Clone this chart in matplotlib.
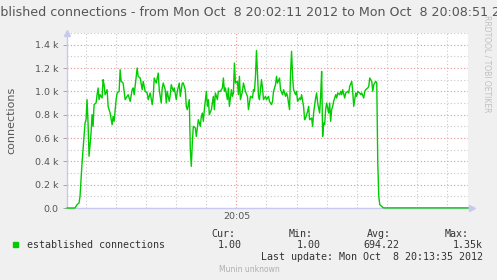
import numpy as np
import matplotlib
matplotlib.use("Agg")
import matplotlib.pyplot as plt
import matplotlib.dates as mdates
from matplotlib.ticker import MultipleLocator, FuncFormatter

# Données (secondes depuis 20:02:11, nombre de connexions)
seconds = [
    0, 8, 10, 12, 13, 15, 16, 18, 19, 20, 21, 22, 24, 25, 26, 27, 29, 30, 31, 32,
    33, 35, 36, 37, 38, 40, 41, 43, 45, 46, 47, 49, 50, 52, 53, 54, 56, 57, 58, 60,
    61, 63, 65, 66, 67, 70, 71, 73, 75, 76, 78, 80, 81, 83, 85, 86, 87, 89, 90, 91,
    92, 94, 95, 96, 98, 99, 100, 102, 103, 104, 106, 107, 109, 110, 112, 113, 115, 116, 118, 119,
    120, 122, 123, 124, 125, 126, 128, 129, 130, 131, 133, 134, 135, 136, 137, 139, 140, 141, 142, 144,
    146, 147, 148, 150, 151, 153, 155, 156, 157, 158, 160, 161, 162, 164, 165, 166, 167, 168, 170, 171,
    172, 173, 175, 176, 178, 180, 181, 183, 185, 186, 187, 188, 189, 191, 192, 194, 195, 196, 198, 199,
    201, 202, 204, 205, 206, 208, 209, 210, 212, 213, 215, 216, 218, 219, 220, 222, 223, 224, 225, 226,
    228, 229, 230, 232, 233, 234, 236, 237, 238, 240, 241, 242, 244, 245, 246, 248, 249, 250, 252, 253,
    254, 255, 256, 257, 258, 259, 261, 262, 263, 264, 265, 266, 268, 269, 270, 272, 273, 274, 275, 277,
    278, 280, 281, 282, 284, 285, 286, 288, 289, 290, 292, 293, 294, 296, 297, 298, 300, 301, 302, 304,
    305, 306, 308, 309, 310, 311, 312, 315, 316, 400,
]
connections = [
    0, 0, 29, 43, 100, 386, 500, 729, 757, 929, 729, 443, 643, 800, 700, 886, 900, 971, 1029, 929,
    971, 943, 1100, 1057, 971, 1014, 871, 814, 714, 786, 743, 929, 986, 1000, 1186, 1086, 1071, 1000, 929, 957,
    971, 914, 1014, 1029, 971, 1200, 1129, 1114, 1014, 1086, 1000, 986, 929, 986, 886, 957, 1114, 1071, 1114, 1157,
    1014, 900, 1029, 1071, 1014, 900, 1000, 914, 971, 1057, 1000, 1029, 929, 1000, 1071, 957, 1071, 1071, 1014, 871,
    843, 929, 500, 357, 557, 700, 686, 614, 686, 757, 700, 786, 814, 743, 843, 1000, 871, 929, 800, 843,
    957, 843, 986, 929, 1000, 1000, 1029, 1114, 1000, 1029, 929, 1029, 871, 1014, 957, 986, 1243, 1071, 1086, 971,
    1129, 929, 1000, 1071, 1000, 957, 843, 957, 943, 1014, 1000, 1129, 1350, 957, 929, 1100, 1029, 929, 957, 929,
    957, 914, 886, 914, 1000, 1057, 1129, 1071, 1114, 1014, 971, 1014, 957, 986, 957, 843, 1157, 1343, 1129, 1014,
    971, 1000, 914, 943, 929, 971, 871, 757, 771, 829, 871, 757, 771, 700, 814, 943, 986, 900, 814, 957,
    1171, 614, 729, 714, 843, 900, 814, 900, 743, 843, 871, 914, 971, 943, 986, 971, 1000, 971, 1014, 943,
    986, 1000, 986, 1043, 1086, 1000, 871, 986, 957, 1000, 986, 971, 986, 943, 1000, 1014, 1029, 1043, 1114, 1086,
    1000, 1057, 1086, 1071, 386, 100, 29, 5, 1, 1,
]

t0 = np.datetime64("2012-10-08T20:02:11")
times = t0 + np.array(seconds).astype("timedelta64[s]")
t_end = np.datetime64("2012-10-08T20:08:51")

title = "Established connections - from Mon Oct  8 20:02:11 2012 to Mon Oct  8 20:08:51 2012"
legend_label = "established connections"
stats_head = ["Cur:", "Min:", "Avg:", "Max:"]
stats_vals = ["1.00", "1.00", "694.22", "1.35k"]
last_update = "Last update: Mon Oct  8 20:13:35 2012"

W, H = 497, 280
fig = plt.figure(figsize=(W / 100, H / 100), dpi=100)
fig.patch.set_facecolor("#F0F0F0")

# zone de tracé (pixels -> fraction)
left, right, top, bottom = 67, 468, 33, 208
ax = fig.add_axes([left / W, 1 - bottom / H, (right - left) / W, (bottom - top) / H])
ax.set_facecolor("white")

ax.plot(times, connections, color="#00CC00", linewidth=1.0, zorder=3, clip_on=False)

ax.set_xlim(t0, t_end)
ax.set_ylim(0, 1500)

# grille
ax.yaxis.set_major_locator(MultipleLocator(200))
ax.yaxis.set_minor_locator(MultipleLocator(100))
ax.xaxis.set_major_locator(mdates.MinuteLocator(byminute=range(0, 60, 5)))
ax.xaxis.set_minor_locator(mdates.SecondLocator(bysecond=[0, 30]))
ax.xaxis.set_major_formatter(mdates.DateFormatter("%H:%M"))
ax.yaxis.set_major_formatter(FuncFormatter(lambda v, p: "0.0" if v == 0 else f"{v / 1000:.1f} k"))

ax.grid(which="minor", color="#C8C8C8", linestyle=(0, (1, 2)), linewidth=0.8)
ax.grid(which="major", color="#E89090", linestyle=(0, (1, 2)), linewidth=0.8)
ax.set_axisbelow(True)

for s in ["top", "right"]:
    ax.spines[s].set_visible(False)
for s in ["left", "bottom"]:
    ax.spines[s].set_color("#C8C8F0")
    ax.spines[s].set_linewidth(1.0)

ax.tick_params(axis="y", which="major", length=3, width=0.6, color="#999999",
               labelsize=6.8, labelcolor="#555555", pad=3)
ax.tick_params(axis="y", which="minor", length=0)
ax.tick_params(axis="x", which="both", length=0, labelsize=6.8, labelcolor="#555555", pad=3)

# flèches des axes
ax.plot([0], [1.0], marker="^", markersize=4, color="#C8C8F0", transform=ax.transAxes, clip_on=False)
ax.plot([1.01], [0], marker=">", markersize=4, color="#C8C8F0", transform=ax.transAxes, clip_on=False)

ax.set_ylabel("connections", fontsize=8, color="#555555")
ax.yaxis.set_label_coords(-51 / (right - left), 0.5)

# titre (déborde comme dans l'original)
fig.text(0.5, 1 - 13 / H, title, ha="center", va="center", fontsize=9.1, color="#555555")
fig.text(487 / W, 1 - 15 / H, "RRDTOOL / TOBI OETIKER", rotation=270, ha="center", va="top",
         fontsize=5.5, color="#C0C0C0")

# légende
mono = "DejaVu Sans Mono"
fig.patches.append(plt.Rectangle((13 / W, 1 - 247 / H), 5 / W, 5 / H, transform=fig.transFigure,
                                 facecolor="#00CC00", edgecolor="#00CC00"))
fig.text(27 / W, 1 - 245 / H, legend_label, family=mono, fontsize=7.2, color="#333333", va="center")
head_right = [235, 313, 391, 469]
val_right = [242, 321, 399, 483]
for h, hx in zip(stats_head, head_right):
    fig.text(hx / W, 1 - 234 / H, h, family=mono, fontsize=7.2, color="#333333", ha="right", va="center")
for v, vx in zip(stats_vals, val_right):
    fig.text(vx / W, 1 - 245 / H, v, family=mono, fontsize=7.2, color="#333333", ha="right", va="center")
fig.text(483 / W, 1 - 257 / H, last_update, family=mono, fontsize=7.2, color="#333333", ha="right", va="center")
fig.text(249 / W, 1 - 269 / H, "Munin unknown", fontsize=5.5, color="#B0B0B0", ha="center", va="center")

fig.savefig("out.png", dpi=100, facecolor=fig.get_facecolor())
